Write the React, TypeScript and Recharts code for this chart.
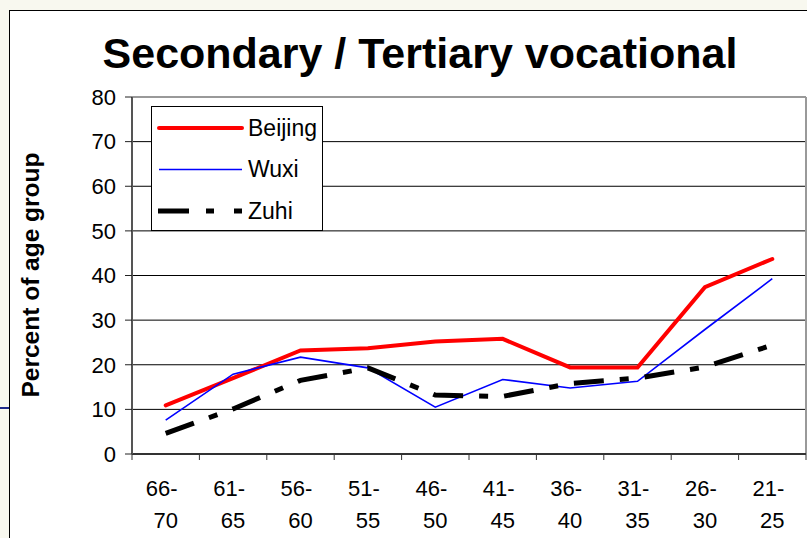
import { LineChart, Line, XAxis, YAxis, CartesianGrid, Legend, ReferenceLine } from 'recharts';

const categories = ['66-70', '61-65', '56-60', '51-55', '46-50', '41-45', '36-40', '31-35', '26-30', '21-25'];
const beijing = [10.9, 17.0, 23.2, 23.7, 25.2, 25.8, 19.4, 19.4, 37.4, 43.7];
const wuxi = [7.6, 17.9, 21.7, 19.3, 10.5, 16.7, 14.8, 16.3, 27.9, 39.3];
const zuhi = [4.6, 10.1, 16.5, 19.3, 13.2, 12.9, 15.8, 17.0, 19.5, 24.4];
const yTicks = [0, 10, 20, 30, 40, 50, 60, 70, 80];

const FONT = '"Liberation Sans", Arial, sans-serif';

const SERIES = [
  { key: 'Beijing', color: '#ff0000', width: 4, dash: undefined, cap: 'round' },
  { key: 'Wuxi', color: '#0000ff', width: 1.6, dash: undefined, cap: 'butt' },
  { key: 'Zuhi', color: '#000000', width: 5, dash: '30 16 9 16', cap: 'butt' },
];

const data = categories.map((label, i) => ({
  x: i + 0.5,
  label,
  Beijing: beijing[i],
  Wuxi: wuxi[i],
  Zuhi: zuhi[i],
}));

const centerTicks = categories.map((_, i) => i + 0.5);
const edgeTicks = [...categories.map((_, i) => i), categories.length];

function CategoryTick({ x, y, payload }: any) {
  const label = categories[Math.floor(payload.value)] ?? '';
  const [a, b] = label.split('-');
  return (
    <text x={x} y={y} textAnchor="middle" fontSize={22} fill="#000" fontFamily={FONT}>
      <tspan x={x - 4} dy={36}>{a}-</tspan>
      <tspan x={x} dy={32}>{b}</tspan>
    </text>
  );
}

// boundary axis only shows its tick lines
function NoLabel() {
  return <g />;
}

const legendDash: Record<string, string | undefined> = { Zuhi: '31 17 8 20' };

function LegendBox() {
  return (
    <div style={{ width: 172, height: 125, boxSizing: 'border-box', border: '1px solid #000', background: '#fff' }}>
      <svg width={170} height={123} style={{ display: 'block' }}>
        {SERIES.map((s, i) => {
          const ly = 21 + i * 41.5;
          return (
            <g key={s.key}>
              <line x1={s.key === 'Zuhi' ? 6 : 7} x2={90} y1={ly} y2={ly} stroke={s.color}
                strokeWidth={s.width} strokeDasharray={legendDash[s.key]} strokeLinecap={s.cap as any} />
              <text x={96} y={ly + 7.5} fontSize={23} fill="#000" fontFamily={FONT}>{s.key}</text>
            </g>
          );
        })}
      </svg>
    </div>
  );
}

export default function App() {
  return (
    <div style={{ position: 'absolute', left: 0, top: 0, width: 807, height: 538, background: '#f8f8ef', overflow: 'hidden', fontFamily: FONT }}>
      {/* slide decoration */}
      <div style={{ position: 'absolute', left: 0, top: 407, width: 9, height: 2, background: '#1f2a8a' }} />
      {/* chart frame */}
      <div style={{ position: 'absolute', left: 9, top: 10, width: 800, height: 530, background: '#fff', borderLeft: '1px solid #000', borderTop: '1px solid #000' }} />
      <div style={{ position: 'absolute', left: 0, top: 0 }}>
        <LineChart width={807} height={538} data={data} margin={{ top: 97, right: 1, left: 72, bottom: 0 }}>
          <CartesianGrid vertical={false} stroke="#000" xAxisId="b" />
          {/* boundary tick marks sit right on the plot bottom */}
          <XAxis xAxisId="a" type="number" dataKey="x" domain={[0, categories.length]} ticks={edgeTicks}
            interval={0} tick={<NoLabel />} tickSize={6} height={6}
            axisLine={{ stroke: '#333', strokeWidth: 2 }} tickLine={{ stroke: '#333' }} />
          <XAxis xAxisId="b" type="number" dataKey="x" domain={[0, categories.length]} ticks={centerTicks}
            interval={0} axisLine={false} tickLine={false} tickSize={0} tickMargin={0} height={78}
            tick={<CategoryTick />} />
          <YAxis domain={[0, 80]} ticks={yTicks} interval={0} width={60} tickSize={7} tickMargin={9}
            axisLine={{ stroke: '#555', strokeWidth: 2 }} tickLine={{ stroke: '#222' }}
            tick={{ fill: '#000', fontSize: 22, fontFamily: FONT }} />
          <ReferenceLine y={80} xAxisId="b" stroke="#999" strokeWidth={2} />
          <ReferenceLine x={categories.length} xAxisId="b" stroke="#999" strokeWidth={2} />
          <Legend layout="vertical" align="center" verticalAlign="middle" content={<LegendBox />}
            wrapperStyle={{ left: 151, top: 106, width: 172, height: 125 }} />
          {SERIES.map((s) => (
            <Line key={s.key} xAxisId="b" type="linear" dataKey={s.key} stroke={s.color}
              strokeWidth={s.width} strokeDasharray={s.dash} strokeLinecap={s.cap as any}
              dot={false} activeDot={false} isAnimationActive={false} />
          ))}
        </LineChart>
      </div>
      <svg width={807} height={538} style={{ position: 'absolute', left: 0, top: 0, pointerEvents: 'none' }}>
        <text x={420} y={68} textAnchor="middle" fontSize={43} fontWeight="bold" fill="#000" fontFamily={FONT}>
          Secondary / Tertiary vocational
        </text>
        <text transform="translate(39,275) rotate(-90)" textAnchor="middle" fontSize={24.5} fontWeight="bold" fill="#000" fontFamily={FONT}>
          Percent of age group
        </text>
      </svg>
    </div>
  );
}
